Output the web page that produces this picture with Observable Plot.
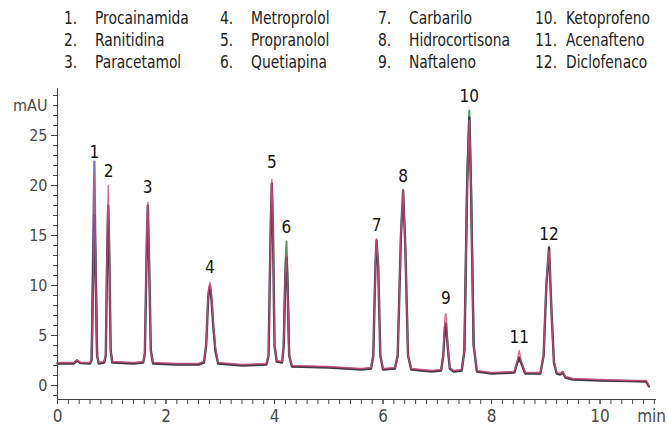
<!DOCTYPE html>
<html><head><meta charset="utf-8">
<script src="https://cdn.jsdelivr.net/npm/d3@7"></script>
<script src="https://cdn.jsdelivr.net/npm/@observablehq/plot@0.6"></script>
<style>
html,body{margin:0;padding:0;background:#fff;}
body{width:667px;height:426px;overflow:hidden;font-family:"Liberation Sans Narrow","Arial Narrow","DejaVu Sans Condensed",sans-serif;}
#legend{position:relative;height:72px;}
.it{position:absolute;font-size:17.5px;line-height:22px;color:#222;white-space:nowrap;transform:scaleX(0.88);transform-origin:0 50%;}
#chart svg{display:block;}
</style></head><body>
<div id="legend"></div>
<div id="chart"></div>
<script>
// ---- Data ----
const compoundNumbers = [1,2,3,4,5,6,7,8,9,10,11,12];
const compoundNames = ["Procainamida","Ranitidina","Paracetamol","Metroprolol","Propranolol","Quetiapina","Carbarilo","Hidrocortisona","Naftaleno","Ketoprofeno","Acenafteno","Diclofenaco"];

// peak annotations
const peakTimes = [0.68,0.94,1.66,2.81,3.95,4.22,5.88,6.37,7.16,7.59,8.51,9.06];
const peakLabelHeights = [23.3,21.4,19.8,11.8,22.3,15.8,16.0,20.9,8.7,28.9,4.8,15.1];

// chromatogram samples (min) and absorbance (mAU) for overlaid runs
const times = [0.00,0.30,0.36,0.42,0.60,
  0.63,0.66,0.68,0.70,0.73, 0.76,0.86,
  0.89,0.915,0.935,0.955,0.98, 1.01,1.40,1.58,
  1.61,1.645,1.665,1.69,1.72, 1.76,2.20,2.60,2.70,
  2.74,2.78,2.81,2.84,2.87,2.91, 2.96,3.40,3.85,
  3.89,3.93,3.95,3.97,4.00, 4.04,4.14,
  4.17,4.20,4.22,4.24,4.27, 4.32,5.00,5.60,5.78,
  5.82,5.86,5.88,5.91,5.95, 6.00,6.22,
  6.27,6.33,6.37,6.41,6.46, 6.52,6.90,7.07,
  7.11,7.14,7.16,7.19,7.23, 7.30,7.45,
  7.50,7.55,7.59,7.62,7.67, 7.73,8.00,8.42,
  8.47,8.51,8.55, 8.62,8.90,
  8.96,9.01,9.06,9.10,9.15,
  9.20,9.27,9.31,9.36,9.50,10.00,10.50,10.85,10.90];
const darkRun = [2.2,2.2,2.5,2.25,2.2,
  2.6,12,17,12,3, 2.2,2.3,
  3,13,18,13,3.5, 2.3,2.2,2.3,
  3.2,14,18,12,3.5, 2.2,2.1,2.1,2.3,
  4,9,10,8.5,6,3.5, 2.2,2.0,2.1,
  3,16,20.2,16,4, 2.4,2.3,
  4,11,12.8,10,3, 1.9,1.8,1.6,1.7,
  3,12,14.5,12,3, 1.6,1.7,
  3,15,19.5,14,3, 1.6,1.4,1.5,
  3,5.8,6.2,4,1.7, 1.4,1.5,
  3.5,20,26.8,20,4, 1.4,1.2,1.3,
  2.2,2.8,2.2, 1.2,1.2,
  3,10,13.8,8,2.3,
  1.2,1.1,1.35,0.8,0.6,0.5,0.45,0.4,-0.1];
const pinkRun = [2.3,2.3,2.55,2.3,2.3,
  2.6,11,21,13,3, 2.3,2.4,
  3,15,20,14,3.5, 2.4,2.3,2.4,
  3.2,15,18.3,12,3.5, 2.3,2.2,2.2,2.4,
  4,9.5,10.3,9,6.5,3.8, 2.3,2.1,2.2,
  3,17,20.6,17,4, 2.5,2.4,
  4,11.5,13,10,3, 2.0,1.9,1.7,1.8,
  3,12.5,14.7,12,3, 1.7,1.8,
  3,15.5,19.6,14,3, 1.7,1.5,1.6,
  3,6.8,7.2,4.2,1.8, 1.5,1.6,
  3.5,20,26.5,20,4, 1.5,1.3,1.4,
  2.4,3.5,2.4, 1.3,1.3,
  3,10.5,13.5,8,2.4,
  1.3,1.2,1.4,0.9,0.7,0.6,0.5,0.5,0.0];
// extra runs visible only at a few peak tops
const violetTimes = [0.63,0.66,0.68,0.70,0.73];
const violetRun = [2.6,16,22.4,14,3];
const greenTimes6 = [4.17,4.20,4.22,4.24,4.27];
const greenRun6 = [4,12,14.4,11,3];
const greenTimes10 = [7.50,7.55,7.59,7.62,7.67];
const greenRun10 = [3.5,21,27.5,21,4];

const yMajor = [0,5,10,15,20,25];
const yMinor = d3.range(-1,30);
const xMajor = [0,2,4,6,8,10];
const xMinor = d3.range(0,56).map(i => i/5);

// ---- Legend ----
const legend = document.getElementById("legend");
const colNum = [64,220,378,535], colName = [95,251,409,566], rowTop = [7,29,51];
compoundNumbers.forEach((n,i) => {
  const c = Math.floor(i/3), r = i%3;
  const a = document.createElement("div");
  a.className = "it"; a.style.left = colNum[c]+"px"; a.style.top = rowTop[r]+"px";
  a.textContent = n + ".";
  legend.appendChild(a);
  const b = document.createElement("div");
  b.className = "it"; b.style.left = colName[c]+"px"; b.style.top = rowTop[r]+"px";
  b.textContent = compoundNames[i];
  legend.appendChild(b);
});

// ---- Chart ----
const runs = times.map((t,i) => ({t, dark: darkRun[i], pink: pinkRun[i]}));
const violet = violetTimes.map((t,i) => ({t, v: violetRun[i]}));
const green = [
  ...greenTimes6.map((t,i) => ({t, v: greenRun6[i], g: 6})),
  ...greenTimes10.map((t,i) => ({t, v: greenRun10[i], g: 10}))
];
const labels = compoundNumbers.map((n,i) => ({n: String(n), t: peakTimes[i], y: peakLabelHeights[i]}));
const axisColor = "#444";
const font = '"Liberation Sans Narrow","Arial Narrow","DejaVu Sans Condensed",sans-serif';

const chart = Plot.plot({
  width: 667, height: 354,
  marginLeft: 57, marginRight: 11, marginTop: 16, marginBottom: 27,
  x: {domain: [0, 11.04], label: null},
  y: {domain: [-1.4, 29.7], label: null},
  style: {fontFamily: font, background: "transparent", color: axisColor},
  marks: [
    Plot.axisY(yMinor, {tickSize: 4, fill: "none", stroke: axisColor, label: null}),
    Plot.axisY(yMajor, {tickSize: 6, tickPadding: 4, fontSize: 16, stroke: axisColor, fill: "#4a4a4a", label: null}),
    Plot.axisY([28], {tickSize: 4, tickPadding: 6, fontSize: 16, stroke: axisColor, fill: "#4a4a4a", tickFormat: () => "mAU", label: null}),
    Plot.axisX(xMinor, {tickSize: 5, fill: "none", stroke: axisColor, label: null}),
    Plot.axisX(xMajor, {tickSize: 5, tickPadding: 5, fontSize: 17, stroke: axisColor, fill: "#4a4a4a", label: null}),
    Plot.axisX([10.95], {tickSize: 0, tickPadding: 10, fontSize: 17, fill: "#4a4a4a", tickFormat: () => "min", label: null}),
    Plot.ruleX([0], {stroke: axisColor, strokeWidth: 1}),
    Plot.ruleY([-1.4], {stroke: axisColor, strokeWidth: 1}),
    Plot.line(green, {x: "t", y: "v", z: "g", stroke: "#4f9f6c", strokeWidth: 2}),
    Plot.line(violet, {x: "t", y: "v", stroke: "#7470c8", strokeWidth: 2.2}),
    Plot.line(runs, {x: "t", y: "dark", stroke: "#453a46", strokeWidth: 2.4}),
    Plot.line(runs, {x: "t", y: "pink", stroke: "#d64b7e", strokeWidth: 1.4, strokeOpacity: 0.8}),
    Plot.text(labels, {x: "t", y: "y", text: "n", fontSize: 17, fill: "#111"})
  ]
});
document.getElementById("chart").appendChild(chart);
</script>
</body></html>
